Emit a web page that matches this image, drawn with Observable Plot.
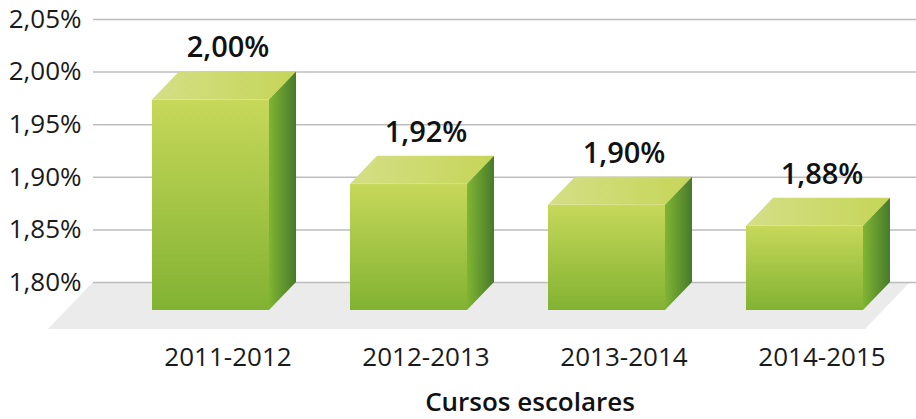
<!DOCTYPE html>
<html><head><meta charset="utf-8">
<script src="https://cdn.jsdelivr.net/npm/d3@7"></script>
<script src="https://cdn.jsdelivr.net/npm/@observablehq/plot@0.6"></script>
<style>body{margin:0;background:#fff;}</style>
</head><body>
<svg width="0" height="0" style="position:absolute">
<defs>
<linearGradient id="gFront" x1="0" y1="0" x2="0" y2="1"><stop offset="0" stop-color="#c7d85a"/><stop offset="1" stop-color="#82b232"/></linearGradient>
<linearGradient id="gTop" x1="0" y1="0" x2="1" y2="0"><stop offset="0" stop-color="#d4df86"/><stop offset="1" stop-color="#c6d558"/></linearGradient>
<linearGradient id="gSide" x1="0" y1="0" x2="1" y2="0"><stop offset="0" stop-color="#80b532"/><stop offset="1" stop-color="#477a2b"/></linearGradient>
</defs></svg>
<div id="chart"></div>
<script>
const categories = ["2011-2012", "2012-2013", "2013-2014", "2014-2015"];
const values = [2.00, 1.92, 1.90, 1.88];
const yTicks = [1.80, 1.85, 1.90, 1.95, 2.00, 2.05];
const baseValue = 1.80;
const xLabel = "Cursos escolares";

const data = categories.map((c, i) => ({cat: c, value: values[i]}));
const fmt = v => v.toFixed(2).replace(".", ",") + "%";

// 3D depth (pixels)
const DX = 27, DY = 28;      // bar depth
const FX = 45, FY = 47;      // floor depth

function bw(s) { return typeof s.bandwidth === "function" ? s.bandwidth() : s.bandwidth; }

const floorMark = (index, scales, values_, dims) => {
  const yb = scales.y(baseValue);
  const x0 = dims.marginLeft, x1 = dims.width - dims.marginRight - 6;
  const g = d3.create("svg:g");
  g.append("path")
    .attr("d", `M${x0},${yb}L${x1},${yb}L${x1 - FX},${yb + FY}L${x0 - FX},${yb + FY}Z`)
    .attr("fill", "#ebebeb");
  return g.node();
};

const facesMark = (index, scales) => {
  const g = d3.create("svg:g");
  const w = bw(scales.x);
  const yb = scales.y(baseValue);
  for (const d of data) {
    const x0 = scales.x(d.cat), x1 = x0 + w, yt = scales.y(d.value);
    g.append("path")
      .attr("d", `M${x0},${yt}L${x1},${yt}L${x1 - DX},${yt + DY}L${x0 - DX},${yt + DY}Z`)
      .attr("fill", "url(#gTop)");
    g.append("path")
      .attr("d", `M${x1},${yt}L${x1 - DX},${yt + DY}L${x1 - DX},${yb + DY}L${x1},${yb}Z`)
      .attr("fill", "url(#gSide)");
  }
  return g.node();
};

const chart = Plot.plot({
  width: 916,
  height: 419,
  marginLeft: 93,
  marginRight: 0,
  marginTop: 19,
  marginBottom: 137,
  style: {fontFamily: "'Open Sans', sans-serif", background: "#fff", color: "#1a1a1a", overflow: "visible"},
  x: {domain: categories, range: [93, 977], paddingInner: 0.4075, paddingOuter: 0.4335},
  y: {domain: [1.80, 2.05]},
  marks: [
    floorMark,
    Plot.gridY(yTicks, {stroke: "#bdbdbd", strokeOpacity: 1, strokeWidth: 1.5}),
    Plot.axisY(yTicks, {tickFormat: fmt, tickSize: 0, tickPadding: 12, fontSize: 26, label: null}),
    Plot.barY(data, {x: "cat", y1: () => baseValue, y2: "value", dx: -DX, dy: DY, fill: "url(#gFront)"}),
    facesMark,
    Plot.text(data, {x: "cat", y: "value", text: d => fmt(d.value), dx: -10, dy: -24, fontSize: 29, fontWeight: 600, fill: "#111"}),
    Plot.axisX({tickSize: 0, tickPadding: 65, fontSize: 26, dx: -10, label: null}),
    Plot.text([xLabel], {frameAnchor: "bottom", lineAnchor: "middle", dx: 25, dy: 120, fontSize: 26, fontWeight: 600, fill: "#111"})
  ]
});
document.getElementById("chart").appendChild(chart);
</script>
</body></html>
